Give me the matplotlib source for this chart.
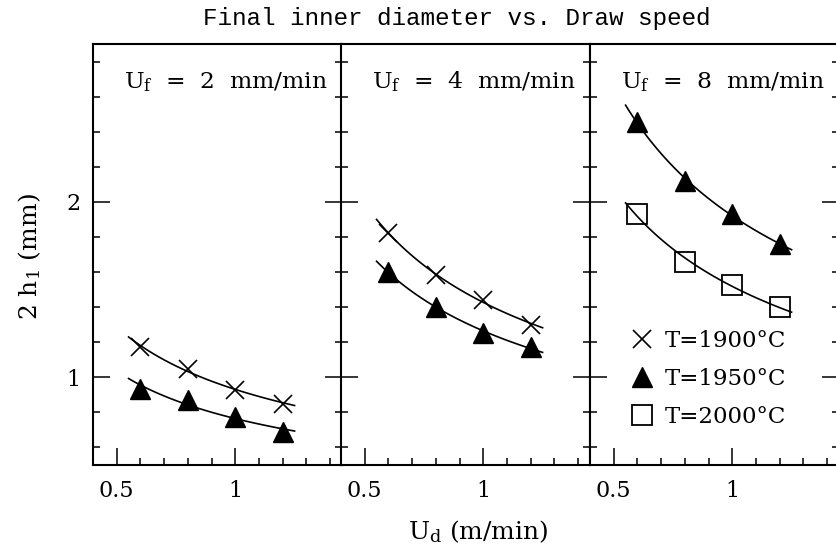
import matplotlib
matplotlib.use('Agg')
import matplotlib.pyplot as plt
from matplotlib.lines import Line2D
from matplotlib.ticker import MultipleLocator
import numpy as np

# draw speed U_d (m/min)
ud = [0.6, 0.8, 1.0, 1.2]

# final inner diameter 2 h1 (mm), one panel per feed speed
feed_labels = ["2", "4", "8"]
t1900 = {
    "2": [1.17, 1.05, 0.93, 0.85],
    "4": [1.82, 1.585, 1.44, 1.30],
}
t1950 = {
    "2": [0.935, 0.87, 0.775, 0.69],
    "4": [1.60, 1.40, 1.255, 1.17],
    "8": [2.455, 2.12, 1.93, 1.76],
}
t2000 = {
    "8": [1.93, 1.657, 1.526, 1.40],
}

serif = "DejaVu Serif"
plt.rcParams["font.family"] = serif
plt.rcParams["mathtext.fontset"] = "dejavuserif"


def power_fit(x, y):
    # straight line in log-log space, drawn as a smooth curve
    b, loga = np.polyfit(np.log(x), np.log(y), 1)
    xs = np.linspace(0.55, 1.25, 60)
    return xs, np.exp(loga) * xs ** b


fig = plt.figure(figsize=(8.36, 5.55), dpi=100)
W, H = 836, 555
lefts = [93, 341, 590]
axes = []
for i, lx in enumerate(lefts):
    ax = fig.add_axes([lx / W, 90 / H, 249 / W, 421 / H])
    axes.append(ax)

mk = dict(color="black", linestyle="none")
for i, (ax, uf) in enumerate(zip(axes, feed_labels)):
    if uf in t1900:
        ax.plot(ud, t1900[uf], marker="x", markersize=13, markeredgewidth=1.2, **mk)
        xs, ys = power_fit(ud, t1900[uf])
        ax.plot(xs, ys, color="black", lw=1.2)
    if uf in t1950:
        ax.plot(ud, t1950[uf], marker="^", markersize=14, **mk)
        xs, ys = power_fit(ud, t1950[uf])
        ax.plot(xs, ys, color="black", lw=1.2)
    if uf in t2000:
        ax.plot(ud, t2000[uf], marker="s", markersize=14, markerfacecolor="white",
                markeredgewidth=1.3, **mk)
        xs, ys = power_fit(ud, t2000[uf])
        ax.plot(xs, ys, color="black", lw=1.2)

    ax.set_xlim(0.4, 1.45)
    ax.set_ylim(0.5, 2.9)
    ax.xaxis.set_major_locator(MultipleLocator(0.5))
    ax.xaxis.set_minor_locator(MultipleLocator(0.1))
    ax.yaxis.set_major_locator(MultipleLocator(1))
    ax.yaxis.set_minor_locator(MultipleLocator(0.2))
    ax.xaxis.set_major_formatter(plt.FuncFormatter(lambda v, p: f"{v:g}"))
    ax.tick_params(which="both", direction="in", left=True, right=True,
                   top=False, width=1.1, labelsize=16)
    ax.tick_params(which="major", length=12)
    ax.tick_params(which="minor", length=5)
    ax.tick_params(axis="x", pad=11)
    ax.tick_params(axis="y", pad=9)
    if i > 0:
        ax.tick_params(labelleft=False)
    for sp in ax.spines.values():
        sp.set_linewidth(1.5)
    ax.text(0.125, 0.91, r"U$_{\rm f}$  =  " + uf + "  mm/min", transform=ax.transAxes,
            fontsize=16.8, va="center", ha="left")

handles = [
    Line2D([], [], marker="x", markersize=13, markeredgewidth=1.2, **mk),
    Line2D([], [], marker="^", markersize=14, **mk),
    Line2D([], [], marker="s", markersize=14, markerfacecolor="white",
           markeredgewidth=1.3, **mk),
]
labels = ["T=1900°C", "T=1950°C", "T=2000°C"]
axes[2].legend(handles, labels, loc="lower right", bbox_to_anchor=(0.87, 0.04),
               frameon=False, fontsize=16.5, handletextpad=0.4, labelspacing=0.68,
               handlelength=1.2)

fig.text(457 / W, 1 - 18 / H, "Final inner diameter vs. Draw speed",
         family="Liberation Mono", fontsize=17.5, ha="center", va="center")
fig.text(478 / W, 1 - 532 / H, r"U$_{\rm d}$ (m/min)", fontsize=18,
         ha="center", va="center")
fig.text(30 / W, 1 - 257 / H, r"2 h$_1$ (mm)", fontsize=18, rotation=90,
         ha="center", va="center")

fig.savefig("out.png", dpi=100)
